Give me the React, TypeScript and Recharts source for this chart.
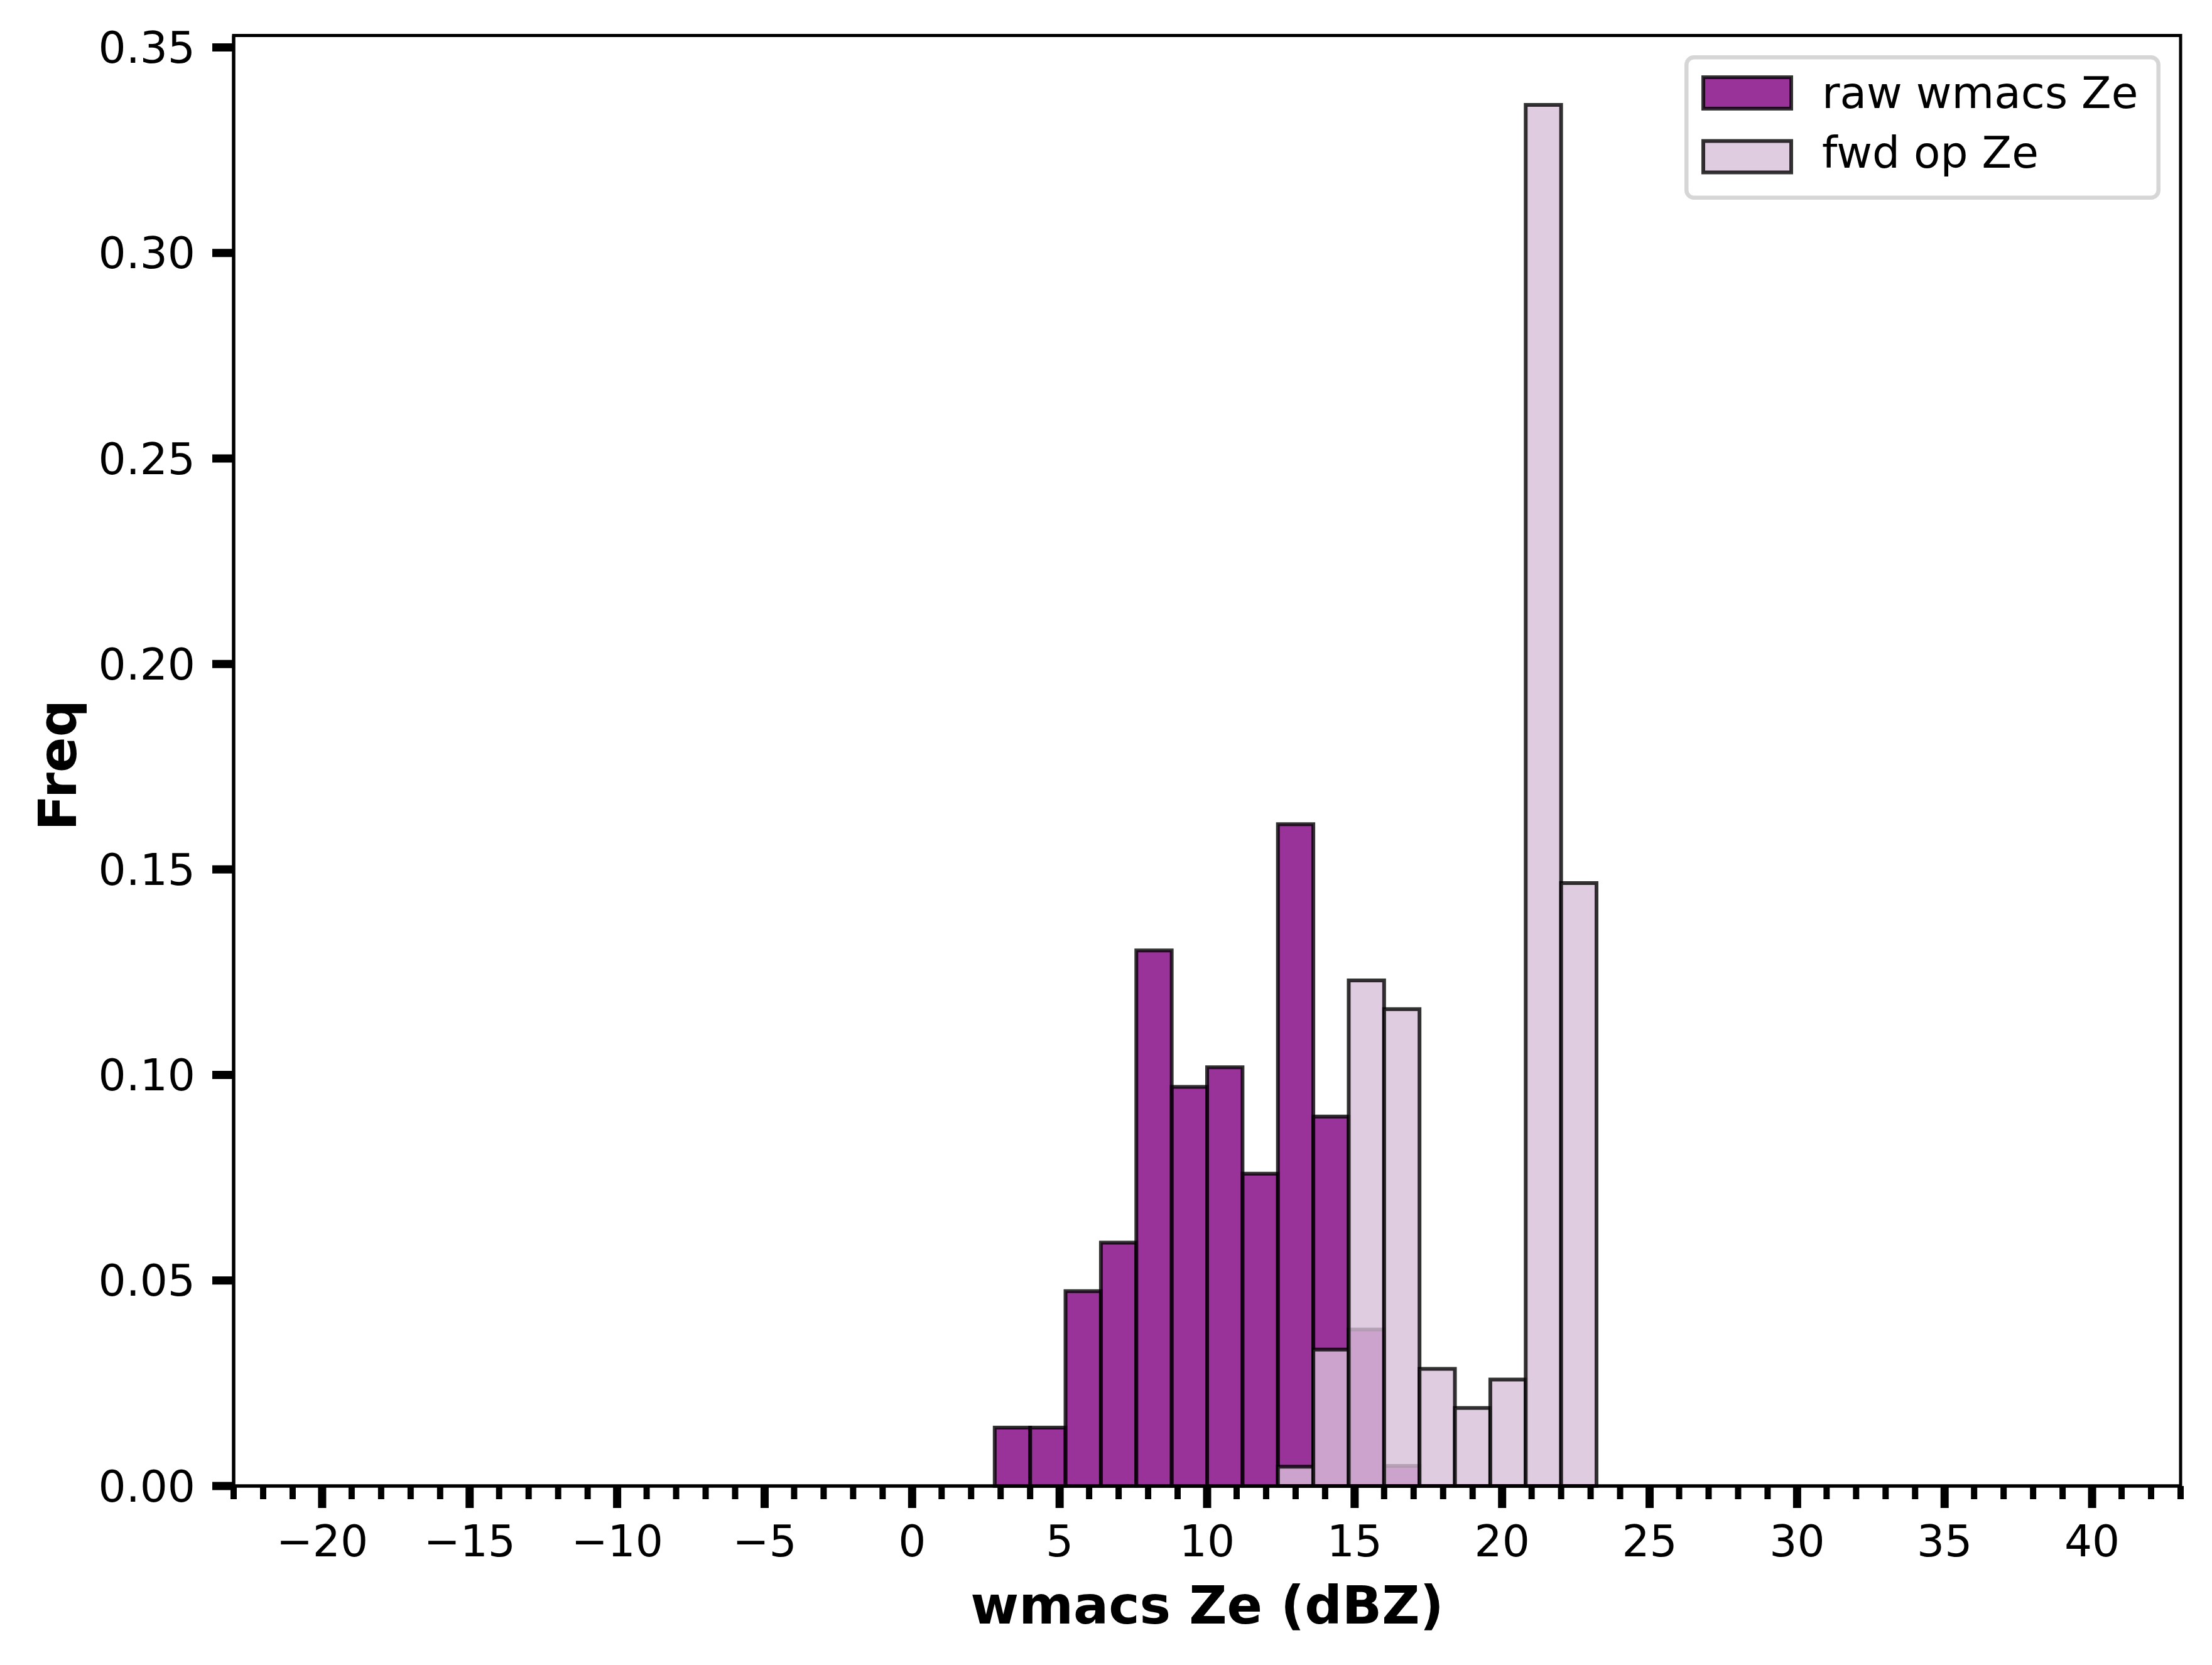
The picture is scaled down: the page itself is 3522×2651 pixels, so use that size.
import React from 'react';
import { ComposedChart, XAxis, YAxis, ReferenceArea, Legend } from 'recharts';

// Histogram bin edges (dBZ) — bins of the two histograms
const binLeft = [2.8, 4.0, 5.2, 6.4, 7.6, 8.8, 10.0, 11.2, 12.4, 13.6, 14.8, 16.0, 17.2, 18.4, 19.6, 20.8, 22.0];
const binRight = [4.0, 5.2, 6.4, 7.6, 8.8, 10.0, 11.2, 12.4, 13.6, 14.8, 16.0, 17.2, 18.4, 19.6, 20.8, 22.0, 23.2];

// Normalized frequencies (density) per bin
const rawWmacsZe = [0.0142, 0.0142, 0.0474, 0.0592, 0.1303, 0.0971, 0.1019, 0.0760, 0.1610, 0.0899, 0.0381, 0.0049, 0, 0, 0, 0, 0];
const fwdOpZe = [0, 0, 0, 0, 0, 0, 0, 0, 0.0047, 0.0332, 0.1230, 0.1160, 0.0285, 0.0190, 0.0259, 0.3360, 0.1467];

const seriesNames = ['raw wmacs Ze', 'fwd op Ze'];
const seriesColors = ['#800080', '#d8bfd8'];

const xMajorTicks = [-20, -15, -10, -5, 0, 5, 10, 15, 20, 25, 30, 35, 40];
const xDomain = [-23, 43];
const xAllTicks = Array.from({ length: xDomain[1] - xDomain[0] + 1 }, (_, i) => xDomain[0] + i);
const yTicks = [0, 0.05, 0.1, 0.15, 0.2, 0.25, 0.3, 0.35];
const yDomain = [0, 0.3529];

const rows = binLeft.map((l, i) => ({ center: (l + binRight[i]) / 2, raw: rawWmacsZe[i], fwd: fwdOpZe[i] }));

const FONT = 'DejaVu Sans';
const TICK_FS = 69.4;
const LABEL_FS = 83.3;
const X_TICK_SIZE = 35;
const X_TICK_MARGIN = 28;

const fmtX = (v: number) => (v < 0 ? '\u2212' + Math.abs(v) : String(v));

const XTick = (props: any) => {
  const { x, y, payload } = props;
  const v = payload.value as number;
  const major = xMajorTicks.includes(v);
  const axisY = y - X_TICK_SIZE - X_TICK_MARGIN;
  return (
    <g>
      <line x1={x} x2={x} y1={axisY} y2={axisY + (major ? X_TICK_SIZE : 21)} stroke="#000" strokeWidth={major ? 13 : 10} />
      {major && (
        <text x={x} y={y} dy="0.71em" textAnchor="middle" fontSize={TICK_FS} fontFamily={FONT} fill="#000">
          {fmtX(v)}
        </text>
      )}
    </g>
  );
};

const YLabel = (props: any) => {
  const vb = props.viewBox;
  const cx = vb.x + 121;
  const cy = vb.y + vb.height / 2 + 7;
  return (
    <text x={cx} y={cy} transform={`rotate(-90 ${cx} ${cy})`} textAnchor="middle" fontSize={LABEL_FS} fontWeight="bold" fontFamily={FONT} fill="#000">
      Freq
    </text>
  );
};

const LegendBox = () => (
  <svg width={758} height={230} style={{ display: 'block' }}>
    <rect x={3.25} y={3.25} width={751.5} height={223.5} rx={12} ry={12} fill="#fff" fillOpacity={0.8} stroke="#d6d6d6" strokeWidth={6.5} />
    {seriesNames.map((name, i) => (
      <g key={name}>
        <rect x={30} y={35 + i * 101.5} width={140} height={50} fill={seriesColors[i]} fillOpacity={0.8} stroke="#000" strokeOpacity={0.8} strokeWidth={6} />
        <text x={219} y={84 + i * 95} fontSize={TICK_FS} fontFamily={FONT} fill="#000">
          {name}
        </text>
      </g>
    ))}
  </svg>
);

export default function App() {
  return (
    <div style={{ position: 'absolute', left: 0, top: 0, width: 3522, height: 2651, background: '#fff' }}>
      <ComposedChart width={3522} height={2651} data={rows} margin={{ top: 56.5, right: 50, bottom: 0, left: 0 }}>
        <XAxis
          dataKey="center"
          type="number"
          domain={xDomain}
          allowDataOverflow
          ticks={xAllTicks}
          interval={0}
          height={285}
          tickSize={X_TICK_SIZE}
          tickMargin={X_TICK_MARGIN}
          tickLine={false}
          tick={<XTick />}
          axisLine={{ stroke: '#000', strokeWidth: 5 }}
          label={{ value: 'wmacs Ze (dBZ)', position: 'insideBottom', offset: 66, fontSize: LABEL_FS, fontWeight: 'bold', fontFamily: FONT, fill: '#000' }}
        />
        <YAxis
          type="number"
          domain={yDomain}
          allowDataOverflow
          ticks={yTicks}
          interval={0}
          width={372}
          tickSize={34}
          tickMargin={27}
          tickFormatter={(v: number) => v.toFixed(2)}
          tick={{ fontSize: TICK_FS, fill: '#000', fontFamily: FONT }}
          tickLine={{ stroke: '#000', strokeWidth: 13 }}
          axisLine={{ stroke: '#000', strokeWidth: 5 }}
          label={YLabel}
        />
        {rawWmacsZe.map((v, i) =>
          v > 0 ? (
            <ReferenceArea key={'raw' + i} x1={binLeft[i]} x2={binRight[i]} y1={0} y2={v} fill={seriesColors[0]} fillOpacity={0.8} stroke="#000" strokeOpacity={0.8} strokeWidth={6} ifOverflow="visible" />
          ) : null
        )}
        {fwdOpZe.map((v, i) =>
          v > 0 ? (
            <ReferenceArea key={'fwd' + i} x1={binLeft[i]} x2={binRight[i]} y1={0} y2={v} fill={seriesColors[1]} fillOpacity={0.8} stroke="#000" strokeOpacity={0.8} strokeWidth={6} ifOverflow="visible" />
          ) : null
        )}
        {/* axes frame (spines) */}
        <ReferenceArea x1={xDomain[0]} x2={xDomain[1]} y1={yDomain[0]} y2={yDomain[1]} fill="none" stroke="#000" strokeWidth={5} ifOverflow="visible" />
        <Legend layout="horizontal" verticalAlign="middle" align="center" wrapperStyle={{ left: 2682, top: 88, width: 758, height: 230 }} content={() => <LegendBox />} />
      </ComposedChart>
    </div>
  );
}
